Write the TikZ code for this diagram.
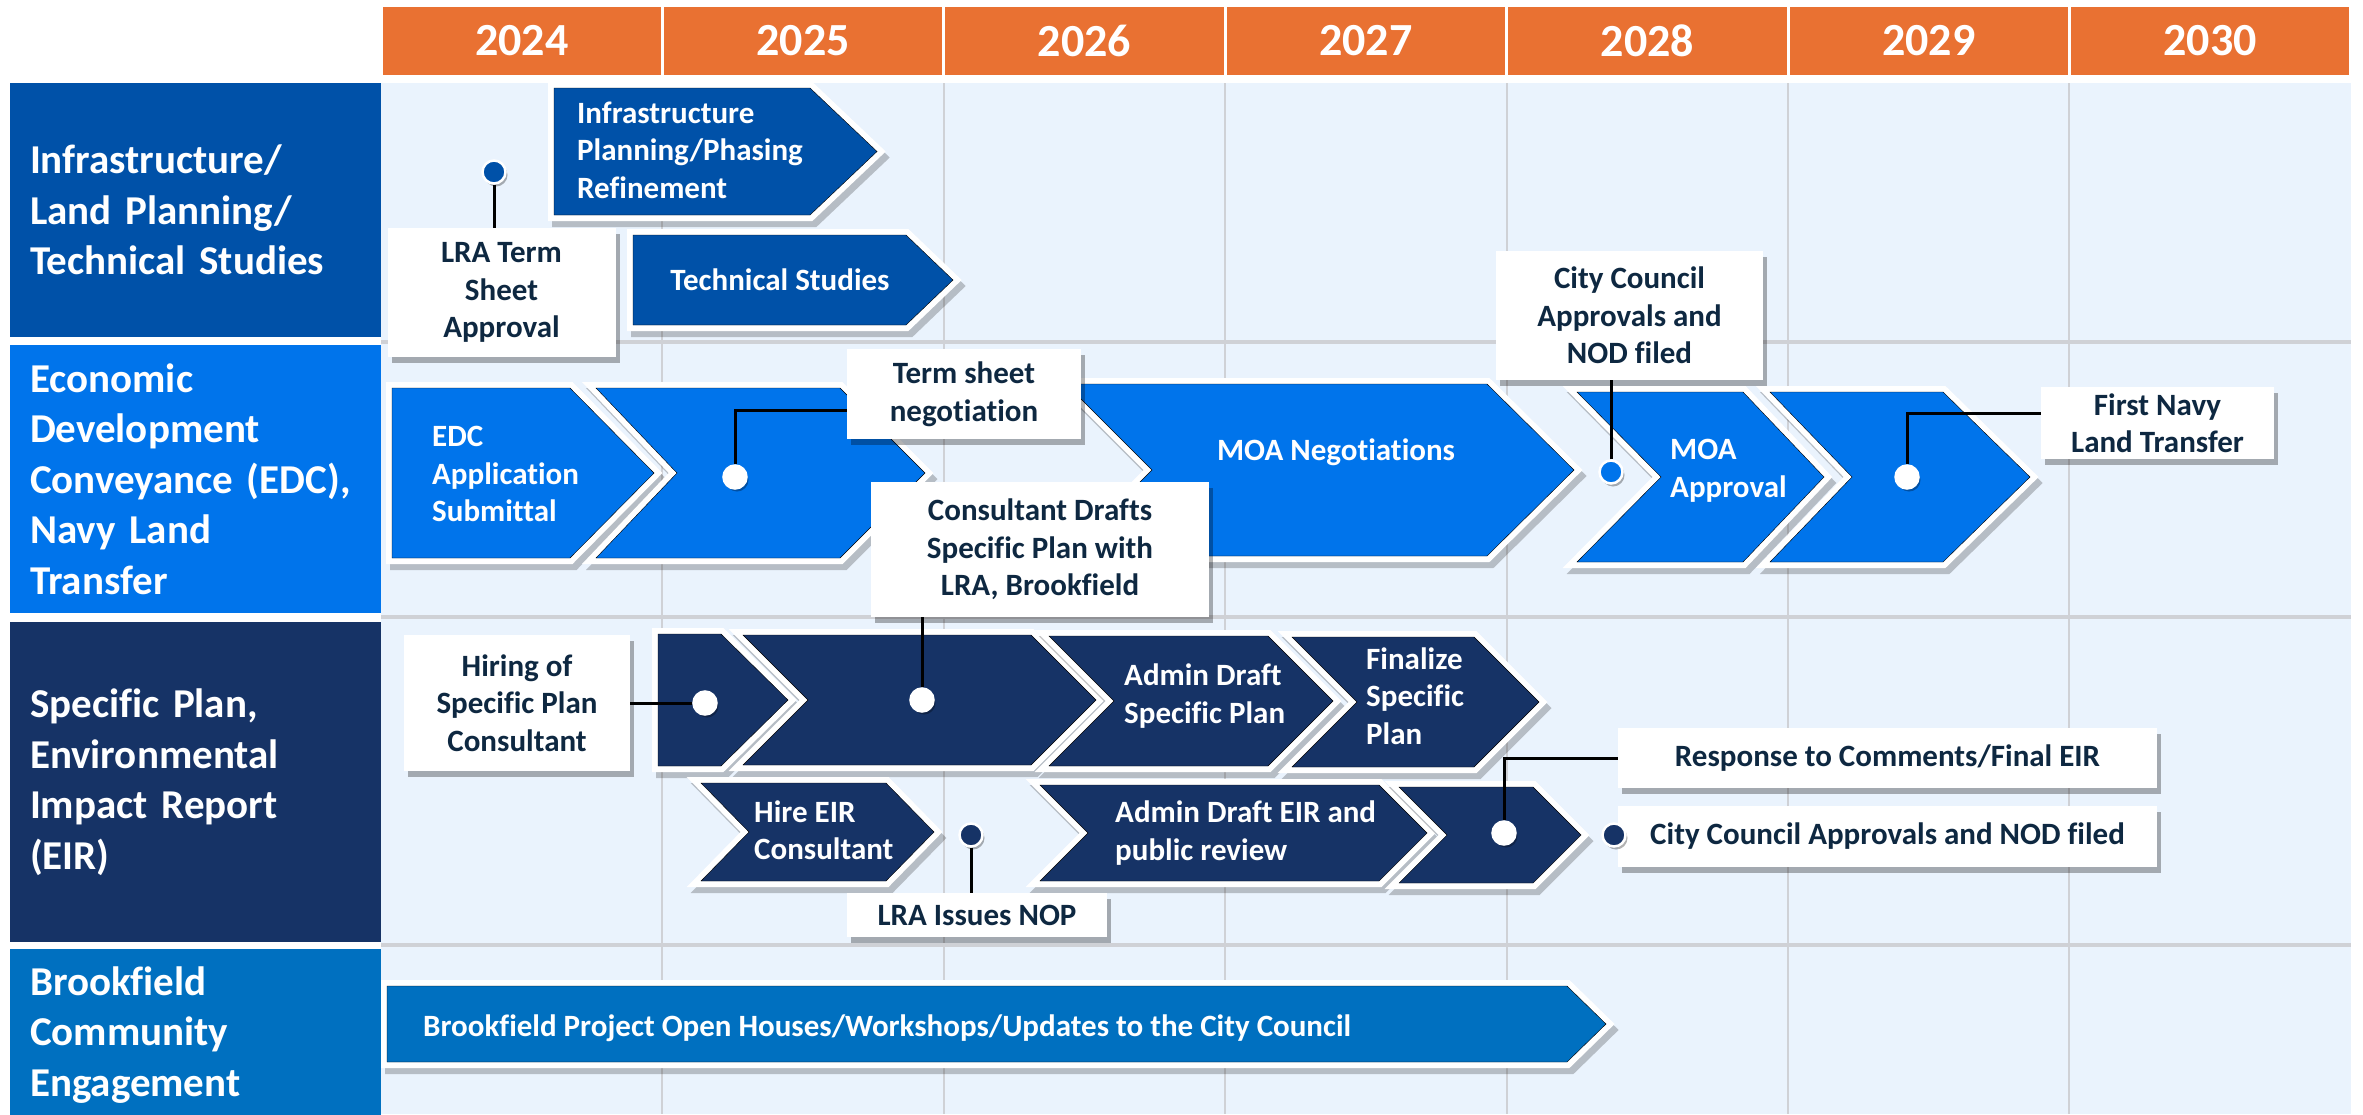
\documentclass[tikz,border=0pt]{standalone}
\usepackage{fontspec}
\setmainfont{Carlito}[Ligatures={CommonOff,ContextualOff}]
\usetikzlibrary{shadows}
\definecolor{yearorange}{HTML}{E97132}
\definecolor{rowone}{HTML}{0051A8}
\definecolor{rowtwo}{HTML}{0074EB}
\definecolor{rowthree}{HTML}{163366}
\definecolor{rowfour}{HTML}{0070C0}
\definecolor{gridbg}{HTML}{EAF3FD}
\definecolor{gridline}{HTML}{CFD1D6}
\definecolor{calltext}{HTML}{0E2841}
\begin{document}
\begin{tikzpicture}
[x=1pt, y=-1pt,
 chev/.style={fill=#1,
   preaction={draw=black, opacity=.22, line width=12pt, line join=miter, transform canvas={shift={(4pt,-6pt)}}},
   preaction={draw=white, line width=12pt, line join=miter}},
 shapetext/.style={text=white, font=\fontsize{31}{37.5}\selectfont\bfseries, align=left, inner sep=0pt},
 callout/.style={fill=white, text=calltext, font=\fontsize{31}{37.5}\selectfont\bfseries, align=center, inner sep=0pt,
   drop shadow={shadow xshift=4pt, shadow yshift=-6pt, opacity=.3, fill=black}},
 dot/.style={circle, fill=#1, draw=white, line width=2.5pt, minimum size=23pt, inner sep=0pt,
   drop shadow={shadow xshift=2pt, shadow yshift=-3pt, opacity=.3, fill=black}},
 conn/.style={draw=black, line width=3pt},
 rowlabel/.style={text=white, font=\fontsize{41}{50.5}\selectfont\bfseries, align=left, text width=331pt, inner xsep=20pt, inner ysep=0pt},
 yearcell/.style={fill=yearorange, text=white, font=\fontsize{46}{55}\selectfont\bfseries, minimum width=278.4pt, minimum height=68pt, inner sep=0pt}]
\useasboundingbox (0,0) rectangle (2363,1114);

% grid
\fill[gridbg] (381,83) rectangle (2351,1114);
\foreach \x in {1,...,6}
  \draw[gridline, line width=2pt] ({381+281.4*\x},83) -- ({381+281.4*\x},1114);
\foreach \y in {342,617,945}
  \draw[gridline, line width=3.5pt] (381,\y) -- (2351,\y);

% years
\foreach \yr [count=\i from 0] in {2024,...,2030}
  \node[yearcell] (year\yr) at ({521.7+281.4*\i},41) {\yr};

% rows
\node[rowlabel, fill=rowone, minimum height=254pt] (rowInfra) at (195.5,210) {Infrastructure/\\Land Planning/\\Technical Studies};
\node[rowlabel, fill=rowtwo, minimum height=268pt] (rowEDC) at (195.5,479) {Economic\\Development\\Conveyance (EDC),\\Navy Land\\Transfer};
\node[rowlabel, fill=rowthree, minimum height=320pt] (rowPlan) at (195.5,782) {Specific Plan,\\Environmental\\Impact Report\\(EIR)};
\node[rowlabel, fill=rowfour, minimum height=172pt] (rowComm) at (195.5,1035) {Brookfield\\Community\\Engagement};

% infrastructure row
\draw[chev=rowone] (554,88) -- (810,88) -- (877,151.5) -- (810,215) -- (554,215) -- cycle;
\node[shapetext, anchor=west] (infraPlan) at (577,150) {Infrastructure\\Planning/Phasing\\Refinement};
\draw[chev=rowone] (633,235) -- (906,235) -- (953,280) -- (906,325) -- (633,325) -- cycle;
\node[shapetext] (techStudies) at (780,280) {Technical Studies};

% EDC row
\draw[chev=rowtwo] (392,388) -- (570,388) -- (654,473) -- (570,558) -- (392,558) -- cycle;
\node[shapetext, anchor=west] (edcApp) at (432,474) {EDC\\Application\\Submittal};
\draw[chev=rowtwo] (596,388) -- (840,388) -- (925,473) -- (840,558) -- (596,558) -- (677,473) -- cycle;
\draw[chev=rowtwo] (1066,384) -- (1487,384) -- (1574,470) -- (1487,556) -- (1066,556) -- (1152,470) -- cycle;
\node[shapetext] (moaNeg) at (1336,452) {MOA Negotiations};
\draw[chev=rowtwo] (1577,392) -- (1743,392) -- (1824,477) -- (1743,562) -- (1577,562) -- (1661,477) -- cycle;
\node[shapetext, anchor=west] (moaApp) at (1670,471) {MOA\\Approval};
\draw[chev=rowtwo] (1770,392) -- (1943,392) -- (2030,477) -- (1943,562) -- (1770,562) -- (1852,477) -- cycle;

% specific plan row
\draw[chev=rowthree] (658,634) -- (721,634) -- (788,700) -- (721,766) -- (658,766) -- cycle;
\draw[chev=rowthree] (743,635) -- (1031,635) -- (1096,700) -- (1031,765) -- (743,765) -- (808,700) -- cycle;
\draw[chev=rowthree] (1049,636) -- (1268,636) -- (1333,701) -- (1268,766) -- (1049,766) -- (1114,701) -- cycle;
\node[shapetext, anchor=west] (adminSP) at (1124,696) {Admin Draft\\Specific Plan};
\draw[chev=rowthree] (1292,637) -- (1474,637) -- (1539,702) -- (1474,767) -- (1292,767) -- (1357,702) -- cycle;
\node[shapetext, anchor=west] (finalSP) at (1366,696) {Finalize\\Specific\\Plan};
\draw[chev=rowthree] (701,783) -- (886,783) -- (934,832) -- (886,881) -- (701,881) -- (749,832) -- cycle;
\node[shapetext, anchor=west] (hireEIR) at (754,830) {Hire EIR\\Consultant};
\draw[chev=rowthree] (1040,785) -- (1379,785) -- (1427,833) -- (1379,881) -- (1040,881) -- (1088,833) -- cycle;
\node[shapetext, anchor=west] (adminEIR) at (1115,833) {Admin Draft EIR and\\public review};
\draw[chev=rowthree] (1399,787) -- (1533,787) -- (1581,835) -- (1533,883) -- (1399,883) -- (1447,835) -- cycle;

% community row
\draw[chev=rowfour] (387,986) -- (1567,986) -- (1606,1024) -- (1567,1062) -- (387,1062) -- cycle;
\node[shapetext, anchor=west] (brookfield) at (423,1028) {Brookfield Project Open Houses/Workshops/Updates to the City Council};

% callouts
\node[callout, minimum width=228pt, minimum height=129pt] (lraTerm) at (501.5,292.5) {LRA Term\\Sheet\\Approval};
\node[callout, minimum width=234pt, minimum height=90pt] (termSheet) at (964,394) {Term sheet\\negotiation};
\node[callout, minimum width=267pt, minimum height=129pt] (cityCouncil) at (1629.5,315.5) {City Council\\Approvals and\\NOD filed};
\node[callout, minimum width=233pt, minimum height=72pt] (firstNavy) at (2157.5,423) {First Navy\\Land Transfer};
\node[callout, minimum width=226pt, minimum height=136pt] (hiring) at (517,703) {Hiring of\\Specific Plan\\Consultant};
\node[callout, minimum width=338pt, minimum height=135pt] (consultant) at (1040,549.5) {Consultant Drafts\\Specific Plan with\\LRA, Brookfield};
\node[callout, minimum width=260pt, minimum height=44pt] (lraNOP) at (977,915) {LRA Issues NOP};
\node[callout, minimum width=539pt, minimum height=60pt] (response) at (1887.5,758) {Response to Comments/Final EIR};
\node[callout, minimum width=539pt, minimum height=61pt] (cityNOD) at (1887.5,836.5) {City Council Approvals and NOD filed};

% markers
\node[dot=rowone] (dotLRA) at (494,172) {};
\node[dot=white] (dotTerm) at (735,477) {};
\node[dot=rowtwo] (dotCity) at (1611,472) {};
\node[dot=white] (dotNavy) at (1907,477) {};
\node[dot=white] (dotHire) at (705,703) {};
\node[dot=white] (dotDraft) at (922,700) {};
\node[dot=rowthree] (dotNOP) at (971,835) {};
\node[dot=white] (dotEIR) at (1504,833) {};
\node[dot=rowthree] (dotNOD) at (1614,835) {};

% connectors
\draw[conn] (dotLRA.south) -- (dotLRA.south |- lraTerm.north);
\draw[conn] (dotTerm.north) |- ([yshift=-16pt]termSheet.west);
\draw[conn] (dotCity.north) -- (dotCity.north |- cityCouncil.south);
\draw[conn] (dotNavy.north) |- ([yshift=10pt]firstNavy.west);
\draw[conn] (hiring.east) -- (dotHire.west);
\draw[conn] (dotDraft.north) -- (dotDraft.north |- consultant.south);
\draw[conn] (dotNOP.south) -- (dotNOP.south |- lraNOP.north);
\draw[conn] (dotEIR.north) |- (response.west);
\end{tikzpicture}
\end{document}
